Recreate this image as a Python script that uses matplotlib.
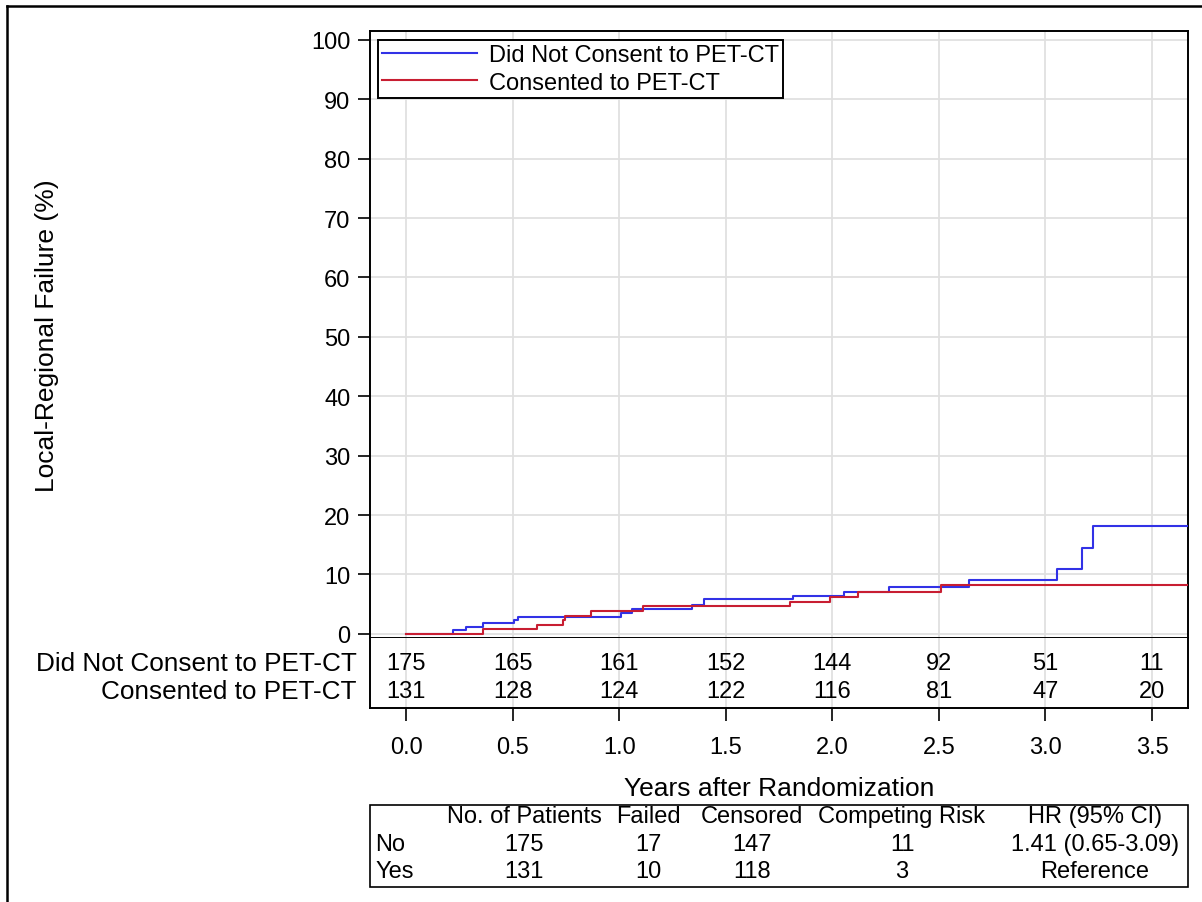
import matplotlib
matplotlib.use("Agg")
import matplotlib.pyplot as plt
from matplotlib.lines import Line2D
from matplotlib.patches import Rectangle

plt.rcParams['font.family'] = ['Liberation Sans', 'DejaVu Sans']

# ---------------- data ----------------
group_names = ["Did Not Consent to PET-CT", "Consented to PET-CT"]
group_colors = ["#3232e6", "#c81e32"]

# cumulative incidence step functions (years, %)
no_times = [0.0, 0.222, 0.28, 0.36, 0.507, 0.527, 1.008, 1.06, 1.341, 1.396,
            1.814, 2.053, 2.268, 2.643, 3.056, 3.17, 3.224, 3.7]
no_values = [0.0, 0.6, 1.15, 1.75, 2.3, 2.9, 3.45, 4.1, 4.85, 5.85,
             6.4, 7.05, 7.95, 9.05, 10.9, 14.4, 18.2, 18.2]

yes_times = [0.0, 0.36, 0.613, 0.736, 0.746, 0.867, 1.114, 1.803, 1.987,
             2.12, 2.512, 3.7]
yes_values = [0.0, 0.8, 1.55, 2.3, 2.97, 3.9, 4.65, 5.4, 6.25,
              7.1, 8.25, 8.25]

risk_times = [0.0, 0.5, 1.0, 1.5, 2.0, 2.5, 3.0, 3.5]
risk_no = [175, 165, 161, 152, 144, 92, 51, 11]
risk_yes = [131, 128, 124, 122, 116, 81, 47, 20]

y_ticks = [0, 10, 20, 30, 40, 50, 60, 70, 80, 90, 100]
x_ticks = [0.0, 0.5, 1.0, 1.5, 2.0, 2.5, 3.0, 3.5]
x_ticklabels = ["0.0", "0.5", "1.0", "1.5", "2.0", "2.5", "3.0", "3.5"]

table_header = ["", "No. of Patients", "Failed", "Censored", "Competing Risk", "HR (95% CI)"]
table_row_no = ["No", "175", "17", "147", "11", "1.41 (0.65-3.09)"]
table_row_yes = ["Yes", "131", "10", "118", "3", "Reference"]

# ---------------- layout helpers ----------------
W, H = 1202, 903
def fx(px):
    return px / W
def fy(py):
    return 1 - py / H

fig = plt.figure(figsize=(W / 100, H / 100), dpi=100)
fig.patch.set_facecolor("white")

L, R = 370, 1188
T, B, RB = 32, 639, 709
ax = fig.add_axes([fx(L), fy(B), fx(R) - fx(L), fy(T) - fy(B)])
axr = fig.add_axes([fx(L), fy(RB), fx(R) - fx(L), fy(B) - fy(RB)])

xlim = (-0.169, 3.669)
grid_color = "#e0e0e0"

# main plot
ax.step(no_times, no_values, where="post", color=group_colors[0], lw=1.5,
        label=group_names[0], zorder=3)
ax.step(yes_times, yes_values, where="post", color=group_colors[1], lw=1.5,
        label=group_names[1], zorder=3)
ax.set_xlim(*xlim)
ax.set_ylim(-0.7, 101.5)
ax.set_yticks(y_ticks)
ax.set_yticklabels([str(v) for v in y_ticks], fontsize=17)
ax.set_xticks(x_ticks)
ax.tick_params(axis="x", length=0, labelbottom=False)
ax.tick_params(axis="y", direction="out", length=9, width=1.2, pad=5)
ax.grid(True, color=grid_color, lw=1.3, zorder=0)
ax.set_axisbelow(True)
for s in ax.spines.values():
    s.set_linewidth(1.4)
ax.set_ylabel("Local-Regional Failure (%)", fontsize=19)
ax.yaxis.set_label_coords((59 - L) / (R - L), 0.5)

leg = ax.legend(loc="upper left", bbox_to_anchor=(0.0098, 0.9857), borderaxespad=0,
                fontsize=17, frameon=True, fancybox=False, edgecolor="black",
                framealpha=1, handlelength=4.0, handletextpad=0.5,
                labelspacing=0.24, borderpad=0.18)
leg.get_frame().set_linewidth(1.4)

# at-risk table
axr.set_xlim(*xlim)
axr.set_ylim(0, 1)
axr.set_xticks(x_ticks)
axr.set_xticklabels(x_ticklabels, fontsize=17)
axr.set_yticks([])
axr.tick_params(axis="x", direction="out", length=9, width=1.2, pad=11)
axr.grid(True, axis="x", color=grid_color, lw=1.3, zorder=0)
axr.set_axisbelow(True)
for s in axr.spines.values():
    s.set_linewidth(1.4)
axr.spines["top"].set_visible(False)
for t, n in zip(risk_times, risk_no):
    axr.text(t, 0.64, str(n), ha="center", va="center", fontsize=17)
for t, n in zip(risk_times, risk_yes):
    axr.text(t, 0.24, str(n), ha="center", va="center", fontsize=17)
axr.text(-0.016, 0.64, group_names[0], transform=axr.transAxes, ha="right",
         va="center", fontsize=18.8)
axr.text(-0.016, 0.24, group_names[1], transform=axr.transAxes, ha="right",
         va="center", fontsize=18.8)
axr.set_xlabel("Years after Randomization", fontsize=19, labelpad=13)

# summary table
fig.add_artist(Rectangle((fx(370), fy(888)), fx(1188) - fx(370), fy(806) - fy(888),
                         transform=fig.transFigure, fill=False, edgecolor="black", lw=1.2))
col_x = [375, 524, 648, 752, 902, 1095]
row_y = [817, 845, 872]
for r, row in enumerate([table_header, table_row_no, table_row_yes]):
    for c, txt in enumerate(row):
        fig.text(fx(col_x[c]), fy(row_y[r]), txt, ha="left" if c == 0 else "center",
                 va="center", fontsize=17)

# outer figure border (left and top visible)
fig.add_artist(Line2D([fx(7), fx(7)], [fy(7), 0], transform=fig.transFigure,
                      color="black", lw=1.8))
fig.add_artist(Line2D([fx(7), 1], [fy(7), fy(7)], transform=fig.transFigure,
                      color="black", lw=1.8))

fig.savefig("out.png", dpi=100)
